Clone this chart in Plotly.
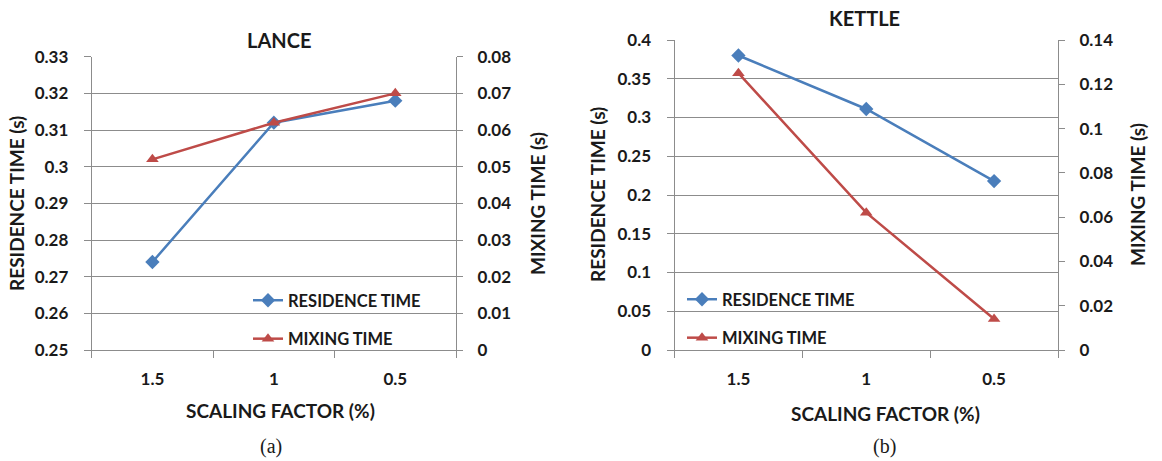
import plotly.graph_objects as go

W, H = 1162, 461

categories = ["1.5", "1", "0.5"]
lance_residence = [0.274, 0.312, 0.318]
lance_mixing = [0.052, 0.062, 0.070]
kettle_residence = [0.380, 0.311, 0.218]
kettle_mixing = [0.125, 0.062, 0.014]

BLUE = "#4A7EBB"
RED = "#BE4B48"
GRID = "#8C8C8C"
FONT = "Lato"
TXT = "#1a1a1a"


def px(x):
    return x / W


def py(y):
    return 1 - y / H


fig = go.Figure()

# LANCE
fig.add_trace(go.Scatter(x=categories, y=lance_residence, name="RESIDENCE TIME",
                         mode="lines+markers", xaxis="x", yaxis="y",
                         line=dict(color=BLUE, width=2.5),
                         marker=dict(symbol="diamond", size=11, color=BLUE),
                         legend="legend", legendgroup="a1"))
fig.add_trace(go.Scatter(x=categories, y=lance_mixing, name="MIXING TIME",
                         mode="lines+markers", xaxis="x", yaxis="y2",
                         line=dict(color=RED, width=2.5),
                         marker=dict(symbol="triangle-up", size=11, color=RED),
                         legend="legend", legendgroup="a2"))
# KETTLE
fig.add_trace(go.Scatter(x=categories, y=kettle_residence, name="RESIDENCE TIME",
                         mode="lines+markers", xaxis="x2", yaxis="y3",
                         line=dict(color=BLUE, width=2.5),
                         marker=dict(symbol="diamond", size=11, color=BLUE),
                         legend="legend2", legendgroup="b1"))
fig.add_trace(go.Scatter(x=categories, y=kettle_mixing, name="MIXING TIME",
                         mode="lines+markers", xaxis="x2", yaxis="y4",
                         line=dict(color=RED, width=2.5),
                         marker=dict(symbol="triangle-up", size=11, color=RED),
                         legend="legend2", legendgroup="b2"))

tickfont = dict(family=FONT, size=17, color=TXT, weight="bold")

xcommon = dict(type="category", tickson="boundaries", ticks="outside", ticklen=7,
               tickcolor=GRID, showline=True, linecolor=GRID, linewidth=1,
               showgrid=False, tickfont=tickfont, ticklabelstandoff=14,
               zeroline=False, fixedrange=True, range=[-0.5, 2.5], automargin=False)
yleft = dict(ticks="outside", ticklen=7, tickcolor=GRID, showline=True,
             linecolor=GRID, linewidth=1, showgrid=True, gridcolor=GRID,
             gridwidth=1, tickfont=tickfont, zeroline=False, ticklabelstandoff=12,
             automargin=False)
yright = dict(ticks="outside", ticklen=6, tickcolor=GRID, showline=True,
              linecolor=GRID, linewidth=1, showgrid=False, tickfont=tickfont,
              zeroline=False, side="right", ticklabelstandoff=11, automargin=False)

legfont = dict(family=FONT, size=16.5, color=TXT, weight="bold")

fig.update_layout(
    width=W, height=H, autosize=False,
    margin=dict(l=0, r=0, t=0, b=0, pad=0, autoexpand=False),
    paper_bgcolor="white", plot_bgcolor="white",
    xaxis=dict(domain=[px(91.7), px(456)], anchor="y", **xcommon),
    yaxis=dict(domain=[py(350), py(56.7)], range=[0.25, 0.33], dtick=0.01,
               tickformat=".2~f", anchor="x", **yleft),
    yaxis2=dict(overlaying="y", anchor="x", range=[0, 0.08], dtick=0.01,
                tickformat="~g", **yright),
    xaxis2=dict(domain=[px(674.5), px(1058)], anchor="y3", **xcommon),
    yaxis3=dict(domain=[py(350), py(40)], range=[0, 0.4], dtick=0.05,
                tickformat="~g", anchor="x2", **yleft),
    yaxis4=dict(overlaying="y3", anchor="x2", range=[0, 0.14], dtick=0.02,
                tickformat="~g", **yright),
    legend=dict(x=px(248), y=py(283), xanchor="left", yanchor="top",
                bgcolor="rgba(0,0,0,0)", font=legfont,
                tracegroupgap=14, itemwidth=30),
    legend2=dict(x=px(682), y=py(282), xanchor="left", yanchor="top",
                 bgcolor="rgba(0,0,0,0)", font=legfont,
                 tracegroupgap=14, itemwidth=30),
    showlegend=True,
)

titlefont = dict(family=FONT, size=19, color=TXT, weight="bold")
capfont = dict(family="Liberation Serif", size=20, color=TXT)

annotations = [
    dict(text="LANCE", x=px(279), y=py(40), font=dict(family=FONT, size=20, color=TXT, weight="bold")),
    dict(text="KETTLE", x=px(864), y=py(18), font=dict(family=FONT, size=20, color=TXT, weight="bold")),
    dict(text="SCALING FACTOR (%)", x=px(280), y=py(410), font=titlefont),
    dict(text="SCALING FACTOR (%)", x=px(885), y=py(413), font=titlefont),
    dict(text="RESIDENCE TIME (s)", x=px(16), y=py(204), textangle=-90, font=titlefont),
    dict(text="MIXING TIME (s)", x=px(537), y=py(204), textangle=-90, font=titlefont),
    dict(text="RESIDENCE TIME (s)", x=px(597), y=py(195), textangle=-90, font=titlefont),
    dict(text="MIXING TIME (s)", x=px(1137), y=py(195), textangle=-90, font=titlefont),
    dict(text="(a)", x=px(271), y=py(446), font=capfont),
    dict(text="(b)", x=px(884), y=py(446), font=capfont),
]
for a in annotations:
    a.update(xref="paper", yref="paper", showarrow=False, xanchor="center", yanchor="middle")
fig.update_layout(annotations=annotations)

fig.write_html("out.html", config={"displayModeBar": False},
               post_script="document.documentElement.style.margin='0';"
                           "document.body.style.margin='0';"
                           "document.body.style.overflow='hidden';")
